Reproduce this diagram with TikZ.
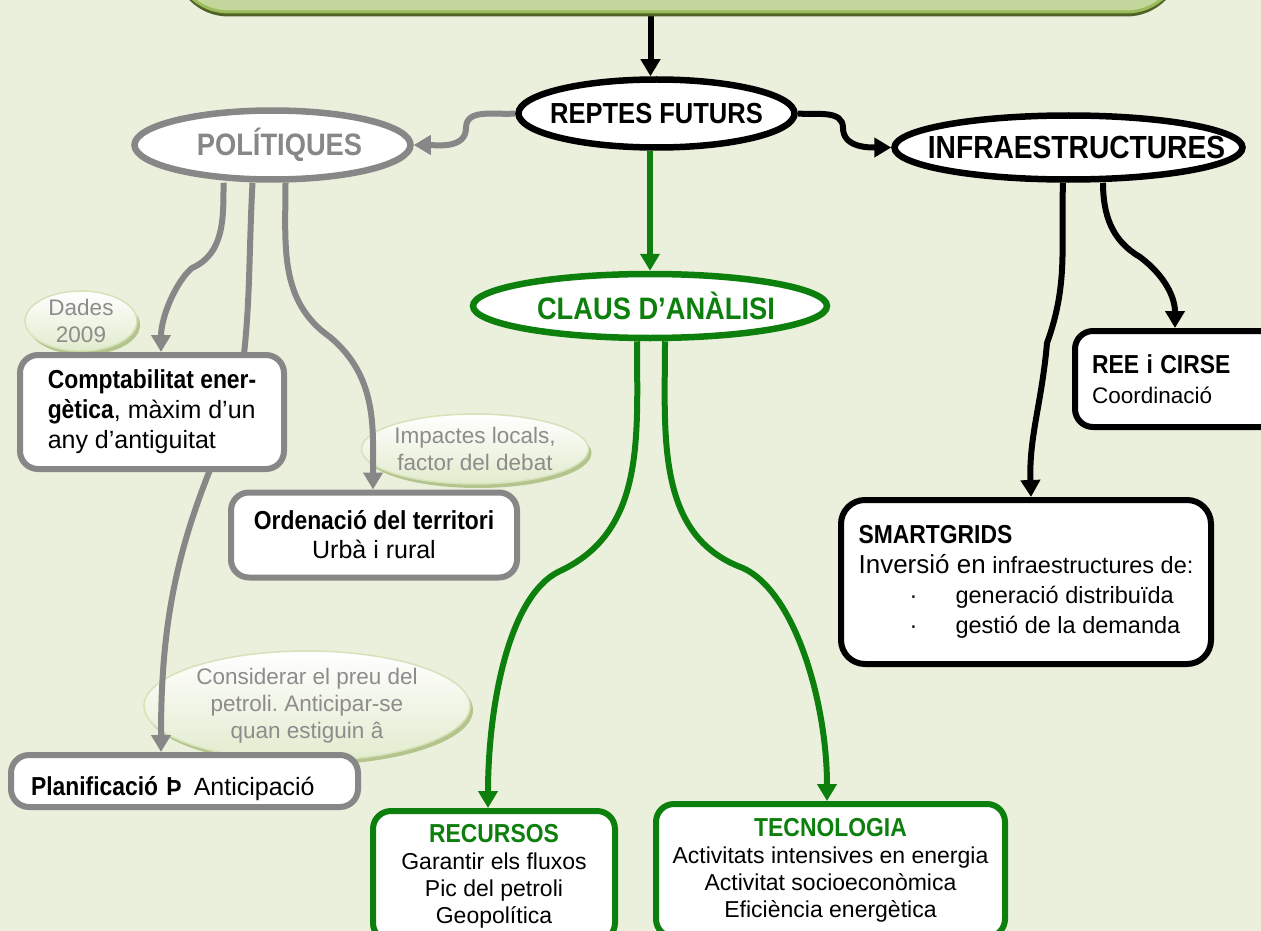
\documentclass[tikz,border=0pt]{standalone}
\usepackage{fontspec}
\setmainfont{Liberation Sans}[BoldFeatures={FakeStretch=0.88}]
\usepackage{xcolor}
\usetikzlibrary{arrows.meta,shapes.geometric,shadows}

\definecolor{paper}{HTML}{EBF0DD}
\definecolor{bannerfill}{HTML}{C3D69B}
\definecolor{bannerline}{HTML}{9BBB59}
\definecolor{bannerdark}{HTML}{4F6228}
\definecolor{politgray}{HTML}{878787}
\definecolor{claugreen}{HTML}{0C7F0C}
\definecolor{notefill}{HTML}{E2EBCD}
\definecolor{noteline}{HTML}{D5E2BA}
\definecolor{noteshade}{HTML}{B3C48D}
\definecolor{notetext}{HTML}{8C8C8C}

\pgfdeclarelayer{notes}
\pgfdeclarelayer{links}
\pgfsetlayers{notes,links,main}

\frenchspacing
\newcommand{\fsz}[2]{\fontsize{#1}{#2}\selectfont}
\newcommand{\titol}[1]{{\bfseries\fsz{26}{30}#1}}
% text of an oval, kept out of the oval's size; optional push to the right
\newcommand{\hubword}[2][0pt]{\makebox[0pt]{\hspace*{#1}#2}}

\begin{document}
\begin{tikzpicture}[x=1pt, y=1pt, >={Triangle[length=17pt,width=19pt]},
  hub/.style={ellipse, draw, line width=6.5pt, fill=white, inner sep=0pt},
  card/.style={draw, rounded corners=18pt, line width=6pt, fill=white, inner sep=8pt},
  note/.style={ellipse, draw=noteline, line width=1.5pt, top color=white, bottom color=notefill,
    drop shadow={shadow xshift=3pt, shadow yshift=-4pt, fill=noteshade, opacity=1},
    label={[align=center, text=notetext, font=\fsz{22.5}{27}]center:{#1}}},
  link/.style={->, line width=6pt}]
  \useasboundingbox (0,0) rectangle (1261,-931);
  \clip (0,0) rectangle (1261,-931);

  % paper and the side remarks
  \begin{pgfonlayer}{notes}
    \fill[paper] (0,0) rectangle (1261,-931);
    \node[note={Dades\\2009}, minimum width=112pt, minimum height=60pt] (dades) at (81,-321) {};
    \node[note={Impactes locals,\\factor del debat}, minimum width=227pt, minimum height=70pt] (impactes) at (475,-449) {};
    \node[note={Considerar el preu del\\petroli. Anticipar-se\\quan estiguin â}, minimum width=326pt, minimum height=110pt] (preu) at (307,-706) {};
  \end{pgfonlayer}

  % banner at the top
  \node[draw=bannerline, line width=3pt, fill=bannerfill, rounded corners=55pt, minimum width=1008pt, minimum height=160pt,
    drop shadow={shadow xshift=0pt, shadow yshift=-4.5pt, fill=bannerdark, opacity=1}] (banner) at (677.5,68) {};

  % ovals
  \node[hub, minimum width=276pt, minimum height=68pt, font=\bfseries\fsz{29}{32}] (reptes) at (656.5,-113.5) {\hubword{REPTES FUTURS}};
  \node[hub, draw=politgray, text=politgray, minimum width=276pt, minimum height=69pt, font=\bfseries\fsz{31}{34}] (polit) at (272.5,-145) {\hubword[14pt]{POLÍTIQUES}};
  \node[hub, minimum width=348pt, minimum height=64pt, font=\bfseries\fsz{32}{36}] (infra) at (1068.5,-147.5) {\hubword[16pt]{INFRAESTRUCTURES}};
  \node[hub, draw=claugreen, text=claugreen, minimum width=354pt, minimum height=64pt, font=\bfseries\fsz{31}{34}] (claus) at (650,-306) {\hubword[12pt]{CLAUS D’ANÀLISI}};

  % policy boxes
  \node[card, draw=politgray, minimum width=264pt, minimum height=114pt, align=left, font=\fsz{25}{30}] (comptab) at (152,-412)
    {\titol{Comptabilitat ener-}\\\titol{gètica}, màxim d’un\\any d’antiguitat};
  \node[card, draw=politgray, minimum width=286pt, minimum height=85pt, align=center, font=\fsz{25}{29}] (orden) at (374,-535)
    {\titol{Ordenació del territori}\\Urbà i rural};
  \node[card, draw=politgray, minimum height=52pt, text width=307pt, inner xsep=20pt, text height=28pt, text depth=0pt,
    align=left, font=\fsz{25}{30}] (planif) at (184.5,-781) {\titol{Planificació Þ}\hspace{12pt}Anticipació};

  % infrastructure boxes
  \node[card, minimum height=96pt, text width=181pt, inner xsep=17pt, align=left, font=\fsz{22.5}{30}] (ree) at (1182.5,-379)
    {\titol{REE i CIRSE}\\Coordinació};
  \node[card, rounded corners=24pt, minimum width=370pt, minimum height=164pt, align=left, font=\fsz{23.5}{30}] (smart) at (1026,-582)
    {\titol{SMARTGRIDS}\\{\fsz{26}{30}Inversió en} infraestructures de:\\
     \hspace*{51pt}\makebox[46pt][l]{·}generació distribuïda\\
     \hspace*{51pt}\makebox[46pt][l]{·}gestió de la demanda};

  % analysis boxes
  \node[card, draw=claugreen, anchor=north, minimum width=242pt, minimum height=130pt, align=center, font=\fsz{23}{27}] (recursos) at (494,-808)
    {\textcolor{claugreen}{\titol{RECURSOS}}\\Garantir els fluxos\\Pic del petroli\\Geopolítica};
  \node[card, draw=claugreen, anchor=north, minimum width=349pt, minimum height=133pt, align=center, font=\fsz{23}{27}] (tecno) at (830.5,-801)
    {\textcolor{claugreen}{\titol{TECNOLOGIA}}\\Activitats intensives en energia\\Activitat socioeconòmica\\Eficiència energètica};

  % connectors
  \begin{pgfonlayer}{links}
    \draw[link] ([xshift=-6pt]reptes.north |- banner.south) -- ([xshift=-6pt]reptes.north);
    \draw[link, politgray] (reptes.west) to[out=185,in=90] (466,-128) to[out=-90,in=0] (polit.east);
    \draw[link] (reptes.east) to[out=-5,in=90] (843,-128) to[out=-90,in=180] (infra.west);
    \draw[link, claugreen] (reptes.south -| claus.north) -- (claus.north);

    \draw[link, politgray] ([xshift=-49pt]polit.south) to[out=-90,in=24] (192,-268)
      to[out=220,in=90,out looseness=0.6] ([xshift=9pt]comptab.north);
    \draw[link, politgray] ([xshift=-20pt]polit.south) to[out=-93,in=80] (236,-410)
      to[out=-115,in=90] ([xshift=-23.5pt]planif.north);
    \draw[link, politgray] ([xshift=13pt]polit.south) to[out=-90,in=145] (330,-337)
      to[out=-40,in=90] ([xshift=-1pt]orden.north);

    \draw[link, claugreen] ([xshift=-13pt]claus.south) to[out=-90,in=25] (560,-571)
      to[out=205,in=90,out looseness=0.6] ([xshift=-6pt]recursos.north);
    \draw[link, claugreen] ([xshift=15pt]claus.south) to[out=-90,in=160] (743,-568)
      to[out=-25,in=90,out looseness=0.6] ([xshift=-3.5pt]tecno.north);

    \draw[link] ([xshift=34.5pt]infra.south) to[out=-90,in=150] (1140,-257)
      to[out=-37,in=90] ([xshift=-7.5pt]ree.north);
    \draw[link] ([xshift=-5.5pt]infra.south) to[out=-92,in=70] (1047,-343)
      to[out=-95,in=92] ([xshift=5pt]smart.north);
  \end{pgfonlayer}
\end{tikzpicture}
\end{document}
